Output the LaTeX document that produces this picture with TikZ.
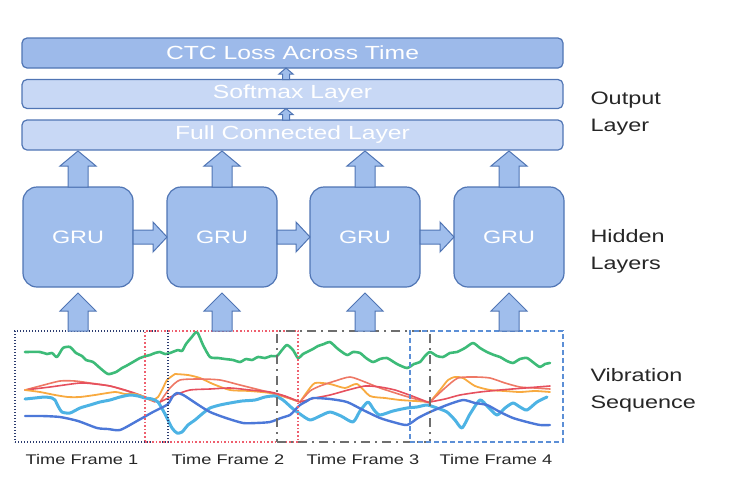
\documentclass[tikz,border=0pt]{standalone}
\usepackage{fontspec}
\setmainfont{Liberation Sans}[FakeStretch=1.3]
\usetikzlibrary{calc}
\definecolor{gruFill}{HTML}{A0BEEC}
\definecolor{ctcFill}{HTML}{9DBAEA}
\definecolor{lightFill}{HTML}{C8D8F5}
\definecolor{bord}{HTML}{5075B4}
\definecolor{cgreen}{HTML}{3DBB78}
\definecolor{ccyan}{HTML}{4DB3E4}
\definecolor{cblue}{HTML}{4C78D8}
\definecolor{corange}{HTML}{F8AA40}
\definecolor{cred}{HTML}{E6505E}
\definecolor{csalmon}{HTML}{EE7865}
\definecolor{fnavy}{HTML}{2C3C70}
\definecolor{fred}{HTML}{EE5F6E}
\definecolor{fgray}{HTML}{6E6E6E}
\definecolor{fblue}{HTML}{5C8FD6}
\newcommand\upblk[5]{\filldraw[blk] let \p1=(#1), \p2=(#2) in
  (\x1-#3,\y1) -- (\x1-#3,\y2-#5) -- (\x1-#4,\y2-#5) -- (\x1,\y2) -- (\x1+#4,\y2-#5) -- (\x1+#3,\y2-#5) -- (\x1+#3,\y1) -- cycle;}
\newcommand\rtblk[5]{\filldraw[blk] let \p1=(#1), \p2=(#2) in
  (\x1,\y1-#3) -- (\x2-#5,\y1-#3) -- (\x2-#5,\y1-#4) -- (\x2,\y1) -- (\x2-#5,\y1+#4) -- (\x2-#5,\y1+#3) -- (\x1,\y1+#3) -- cycle;}
\begin{document}
\begin{tikzpicture}[x=1pt,y=-1pt,
  obox/.style={draw=bord, line width=1.2pt, rounded corners=5pt, minimum width=541pt, text=white, font=\fontsize{19}{22}\selectfont, inner sep=0pt, outer sep=0pt},
  gru/.style={draw=bord, fill=gruFill, line width=1.2pt, rounded corners=14pt, minimum width=110pt, minimum height=100pt, text=white, font=\fontsize{18}{21}\selectfont, inner sep=0pt, outer sep=0pt},
  blk/.style={draw=bord, fill=gruFill, line width=1pt, line join=miter},
  frame/.style={minimum width=153pt, minimum height=111pt, inner sep=0pt, outer sep=0pt},
  lbl/.style={font=\fontsize{18}{27}\selectfont, align=left, anchor=west, text=black!85},
  tlbl/.style={font=\fontsize{14}{16}\selectfont, text=black!85},
  crv/.style={smooth, tension=0.4, line cap=round, line join=round}]
\useasboundingbox (0,0) rectangle (730,490);
% output boxes
\node[obox, fill=ctcFill, minimum height=30pt] (ctc) at (292.5,53) {CTC Loss Across Time};
\node[obox, fill=lightFill, minimum height=29pt] (sm) at (292.5,94) {Softmax Layer};
\node[obox, fill=lightFill, minimum height=30pt] (fc) at (292.5,135) {Full Connected Layer};
% GRU
\node[gru] (g1) at (78,237) {GRU};
\node[gru] (g2) at (222,237) {GRU};
\node[gru] (g3) at (365,237) {GRU};
\node[gru] (g4) at (509,237) {GRU};
% curves
\draw[crv, cgreen, line width=2.6pt] plot coordinates {(25,352)(40,352)(47,354)(52,353)(57,357)(63,348)(70,347)(76,353)(82,356)(86,360)(93,362)(100,368)(108,374)(116,372)(122,368)(126,366)(133,362)(140,358)(146,356)(150,355)(155,353)(160,352)(165,354)(170,353)(178,350)(182,351)(186,344)(191,338)(197,332)(203,345)(210,357)(218,358)(225,359)(233,360)(240,362)(246,359)(252,360)(258,357)(265,358)(271,356)(277,356)(282,350)(287,345)(293,350)(298,358)(303,354)(307,352)(313,349)(318,346)(324,344)(330,342)(338,349)(347,355)(353,352)(360,353)(366,358)(373,362)(380,359)(387,358)(397,364)(407,368)(414,364)(420,362)(425,356)(430,352)(437,356)(443,357)(450,353)(457,352)(465,348)(473,343)(480,348)(487,352)(494,355)(500,357)(507,361)(513,363)(520,359)(527,358)(534,363)(540,367)(545,364)(550,363)};
% frame 1 lines
\draw[crv, csalmon, line width=1.6pt] plot coordinates {(25,390)(40,386)(60,381)(75,381)(90,383)(110,386)(130,392)(145,398)(155,402)};
\draw[crv, cred, line width=1.6pt] plot coordinates {(25,390)(50,387)(80,383)(95,384)(110,386)(125,390)(140,395)(160,403)};
\draw[crv, corange, line width=1.8pt] plot coordinates {(25,390)(40,392)(55,395)(68,397)(80,397)(95,395)(115,392)(125,394)(135,394)(145,397)(152,400)(158,397)(163,388)(167,380)(175,374)};
% frame 2
\draw[crv, corange, line width=1.8pt] plot coordinates {(175,374)(188,375)(200,378)(213,384)(230,390)(250,391)(270,393)(285,397)(300,402)};
\draw[crv, csalmon, line width=1.6pt] plot coordinates {(160,402)(170,388)(180,380)(200,379)(220,380)(240,385)(260,390)(280,395)(300,402)};
\draw[crv, cred, line width=1.6pt] plot coordinates {(160,402)(175,395)(190,390)(210,389)(230,388)(250,390)(270,392)(285,396)(300,402)};
% frame 3
\draw[crv, corange, line width=1.8pt] plot coordinates {(300,402)(307,392)(315,383)(330,384)(345,388)(357,384)(370,396)(385,398)(400,400)(415,401)(430,402)};
\draw[crv, csalmon, line width=1.6pt] plot coordinates {(300,402)(310,391)(320,386)(335,381)(350,377)(365,382)(380,388)(405,396)(430,403)};
\draw[crv, cred, line width=1.6pt] plot coordinates {(300,402)(315,398)(330,395)(348,390)(365,386)(380,387)(395,390)(412,396)(430,403)};
% frame 4
\draw[crv, corange, line width=1.8pt] plot coordinates {(430,402)(440,390)(448,380)(455,377)(463,378)(475,386)(490,390)(505,391)(520,392)(535,391)(550,392)};
\draw[crv, csalmon, line width=1.6pt] plot coordinates {(430,402)(445,388)(458,378)(475,377)(490,378)(505,383)(520,387)(535,388)(550,389)};
\draw[crv, cred, line width=1.6pt] plot coordinates {(430,402)(445,399)(460,395)(480,392)(500,390)(525,388)(550,386)};
% cyan
\draw[crv, ccyan, line width=3pt] plot coordinates {(25,399)(35,398)(45,397)(52,398)(55,400)(58,406)(62,412)(70,413)(80,408)(90,405)(100,402)(110,400)(120,397)(130,395)(138,396)(145,398)(152,399)(158,402)(165,414)(172,428)(177,433)(182,432)(188,425)(195,420)(202,414)(210,408)(220,405)(230,403)(242,401)(255,400)(265,397)(275,396)(283,400)(292,408)(300,414)(310,420)(320,416)(330,412)(341,416)(353,422)(360,411)(368,402)(374,410)(380,415)(393,411)(407,408)(417,407)(427,405)(437,408)(447,412)(455,420)(462,428)(470,414)(480,400)(488,407)(497,415)(505,408)(513,403)(520,407)(527,410)(537,402)(547,397)};
% blue
\draw[crv, cblue, line width=2.4pt] plot coordinates {(25,416)(42,416)(60,417)(78,421)(97,428)(108,429)(120,430)(137,421)(153,412)(161,408)(168,404)(173,396)(177,393)(181,394)(185,396)(197,404)(210,412)(226,418)(243,423)(256,423)(270,422)(281,418)(290,415)(295,410)(300,405)(307,401)(313,398)(330,399)(347,402)(363,410)(380,418)(393,422)(407,425)(418,418)(430,412)(447,405)(463,400)(475,403)(487,405)(500,412)(513,418)(527,422)(540,425)(550,425)};
% frames
\node[frame, draw=fnavy, line width=1.1pt, dash pattern=on 1pt off 2pt] (f1) at (91.5,386.5) {};
\node[frame, draw=fred, line width=2pt, dash pattern=on 1.6pt off 2pt] (f2) at (221.5,386.5) {};
\node[frame, draw=fgray, line width=2.4pt, dash pattern=on 9pt off 5pt on 2pt off 5pt] (f3) at (353.5,386.5) {};
\node[frame, draw=fblue, line width=1.4pt, dash pattern=on 5pt off 3pt] (f4) at (486.5,386.5) {};
% labels
\node[tlbl] (t1) at (82,459) {Time Frame 1};
\node[tlbl] (t2) at (228,459) {Time Frame 2};
\node[tlbl] (t3) at (363,459) {Time Frame 3};
\node[tlbl] (t4) at (496,459) {Time Frame 4};
\node[lbl] (lo) at (587,113.5) {Output\\Layer};
\node[lbl] (lh) at (587,251) {Hidden\\Layers};
\node[lbl] (lv) at (587,390.5) {Vibration\\Sequence};
% arrows: GRU -> FC
\foreach \g in {g1,g2,g3,g4} {
  \coordinate (a\g) at ($(\g.north |- fc.south)+(0,1)$);
  \upblk{\g.north}{a\g}{10pt}{18pt}{15pt}
}
% arrows: sequence -> GRU
\foreach \g/\f in {g1/f1,g2/f2,g3/f3,g4/f4} {
  \coordinate (b\g) at (\g.south |- \f.north);
  \coordinate (c\g) at ($(\g.south)+(0,6)$);
  \upblk{b\g}{c\g}{10pt}{18pt}{18pt}
}
% horizontal arrows
\rtblk{g1.east}{g2.west}{7pt}{15pt}{14pt}
\rtblk{g2.east}{g3.west}{7pt}{15pt}{14pt}
\rtblk{g3.east}{g4.west}{7pt}{15pt}{14pt}
% small arrows
\coordinate (s1) at ($(fc.north)+(-6.5,0)$);
\coordinate (s2) at ($(sm.south)+(-6.5,0)$);
\coordinate (s3) at ($(sm.north)+(-6.5,0)$);
\coordinate (s4) at ($(ctc.south)+(-6.5,0)$);
\upblk{s1}{s2}{3.5pt}{7pt}{6pt}
\upblk{s3}{s4}{3.5pt}{7pt}{6pt}
\end{tikzpicture}
\end{document}
